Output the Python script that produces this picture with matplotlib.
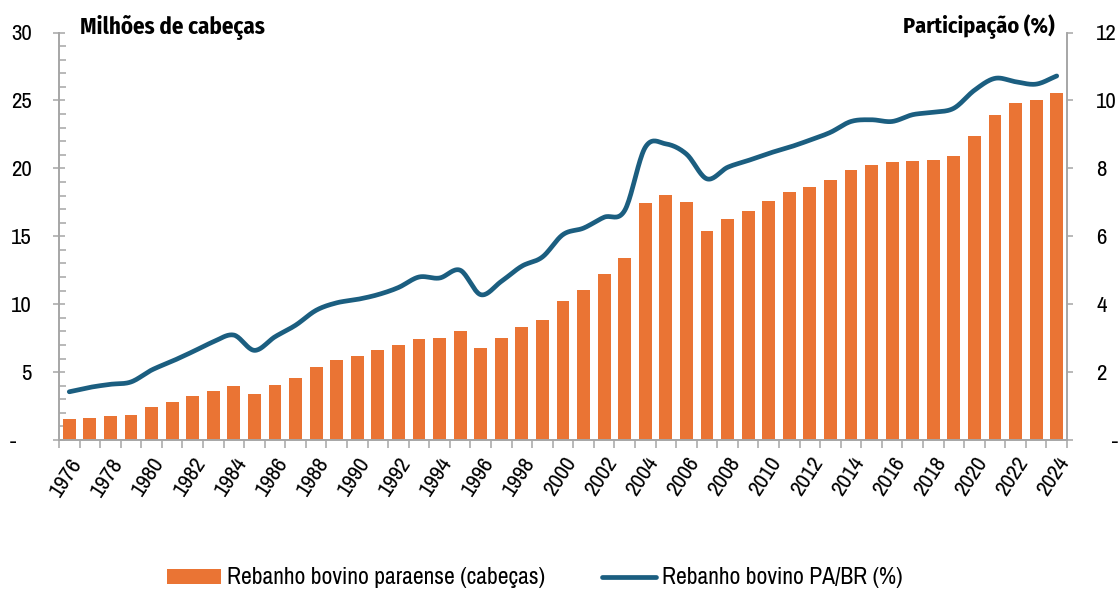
import numpy as np
import matplotlib
matplotlib.use("Agg")
import matplotlib.pyplot as plt
from matplotlib.ticker import MultipleLocator, FixedLocator

plt.rcParams['font.family'] = ['Archivo Narrow', 'Liberation Sans', 'DejaVu Sans']
BOLD_FAMILY = ['Fira Sans Condensed', 'Barlow Condensed', 'DejaVu Sans']

years = list(range(1976, 2025))
rebanho = [1.52, 1.64, 1.74, 1.86, 2.42, 2.82, 3.21, 3.60, 3.94, 3.38,
           4.04, 4.58, 5.39, 5.88, 6.17, 6.61, 6.98, 7.42, 7.52, 8.06,
           6.76, 7.52, 8.33, 8.87, 10.24, 11.02, 12.20, 13.37, 17.44, 18.07,
           17.49, 15.36, 16.24, 16.83, 17.63, 18.27, 18.59, 19.15, 19.89, 20.28,
           20.45, 20.57, 20.62, 20.94, 22.41, 23.93, 24.79, 25.03, 25.54]
participacao = [1.42, 1.55, 1.64, 1.71, 2.06, 2.32, 2.60, 2.89, 3.09, 2.64,
                3.04, 3.38, 3.82, 4.04, 4.14, 4.28, 4.49, 4.80, 4.77, 5.00,
                4.28, 4.67, 5.12, 5.39, 6.05, 6.24, 6.56, 6.76, 8.62, 8.72,
                8.42, 7.69, 8.03, 8.23, 8.44, 8.62, 8.83, 9.06, 9.38, 9.43,
                9.38, 9.58, 9.65, 9.77, 10.30, 10.65, 10.55, 10.48, 10.72]

left_ticks = [0, 5, 10, 15, 20, 25, 30]
left_labels = ['-   ', '5', '10', '15', '20', '25', '30']
right_ticks = [0, 2, 4, 6, 8, 10, 12]
right_labels = ['   -', '2', '4', '6', '8', '10', '12']

ORANGE = '#EA7434'
BLUE = '#1B5E80'
GRAY = '#A6A6A6'
FS = 16.5


def catmull_rom(x, y, n=20):
    x = np.asarray(x, float)
    y = np.asarray(y, float)
    px = np.concatenate([[2 * x[0] - x[1]], x, [2 * x[-1] - x[-2]]])
    py = np.concatenate([[2 * y[0] - y[1]], y, [2 * y[-1] - y[-2]]])
    xs, ys = [], []
    t = np.linspace(0, 1, n, endpoint=False)
    for i in range(1, len(px) - 2):
        for arr, src in ((xs, px), (ys, py)):
            a0, a1, a2, a3 = src[i - 1], src[i], src[i + 1], src[i + 2]
            arr.extend(0.5 * ((2 * a1) + (-a0 + a2) * t
                              + (2 * a0 - 5 * a1 + 4 * a2 - a3) * t ** 2
                              + (-a0 + 3 * a1 - 3 * a2 + a3) * t ** 3))
    xs.append(x[-1])
    ys.append(y[-1])
    return np.array(xs), np.array(ys)


fig = plt.figure(figsize=(11.18, 5.9), dpi=100)
ax = fig.add_axes([59 / 1118, 1 - 440 / 590, 1008 / 1118, 407.5 / 590])
ax2 = ax.twinx()

xpos = np.arange(len(years))
ax.bar(xpos, rebanho, width=0.62, color=ORANGE, zorder=2,
       label='Rebanho bovino paraense (cabeças)')
sx, sy = catmull_rom(xpos, participacao)
ax2.plot(sx, sy, color=BLUE, lw=3.4, solid_capstyle='round',
         label='Rebanho bovino PA/BR (%)', zorder=3)

ax.set_xlim(-0.5, len(years) - 0.5)
ax.set_ylim(0, 30)
ax2.set_ylim(0, 12)

for a in (ax, ax2):
    a.spines['top'].set_visible(False)
    for s in ('left', 'right', 'bottom'):
        a.spines[s].set_color(GRAY)
        a.spines[s].set_linewidth(1.2)

ax.yaxis.set_major_locator(FixedLocator(left_ticks))
ax.set_yticklabels(left_labels)
ax.yaxis.set_minor_locator(MultipleLocator(1))
ax.tick_params(axis='y', which='major', direction='inout', length=9, width=1.1,
               color=GRAY, labelsize=FS, pad=15)
ax.tick_params(axis='y', which='minor', direction='in', length=5, width=1.1, color=GRAY)

ax2.yaxis.set_major_locator(FixedLocator(right_ticks))
ax2.set_yticklabels(right_labels)
ax2.tick_params(axis='y', which='major', direction='out', length=4, width=1.1,
                color=GRAY, labelsize=FS, pad=17)

ax.xaxis.set_major_locator(FixedLocator(xpos[::2]))
ax.set_xticklabels([str(y) for y in years[::2]], rotation=57, ha='right',
                   rotation_mode='anchor', fontsize=FS)
ax.xaxis.set_minor_locator(FixedLocator(np.arange(-0.5, len(years), 1.0)))
ax.tick_params(axis='x', which='major', length=0, pad=10)
ax.tick_params(axis='x', which='minor', direction='out', length=6, width=1.1, color=GRAY)

fig.text(80 / 1118, 1 - 27 / 590, 'Milhões de cabeças', fontsize=16.5, fontweight='bold',
         family=BOLD_FAMILY, ha='left', va='center')
fig.text(1055 / 1118, 1 - 27 / 590, 'Participação (%)', fontsize=16, fontweight='bold',
         family=BOLD_FAMILY, ha='right', va='center')

h1, l1 = ax.get_legend_handles_labels()
h2, l2 = ax2.get_legend_handles_labels()
fig.legend(h1 + h2, l1 + l2, loc='center', bbox_to_anchor=(535 / 1118, 1 - 578 / 590),
           ncol=2, frameon=False, fontsize=17, handlelength=2.3, handleheight=0.6,
           handletextpad=0.25, columnspacing=2.4)

fig.savefig('out.png', dpi=100)
